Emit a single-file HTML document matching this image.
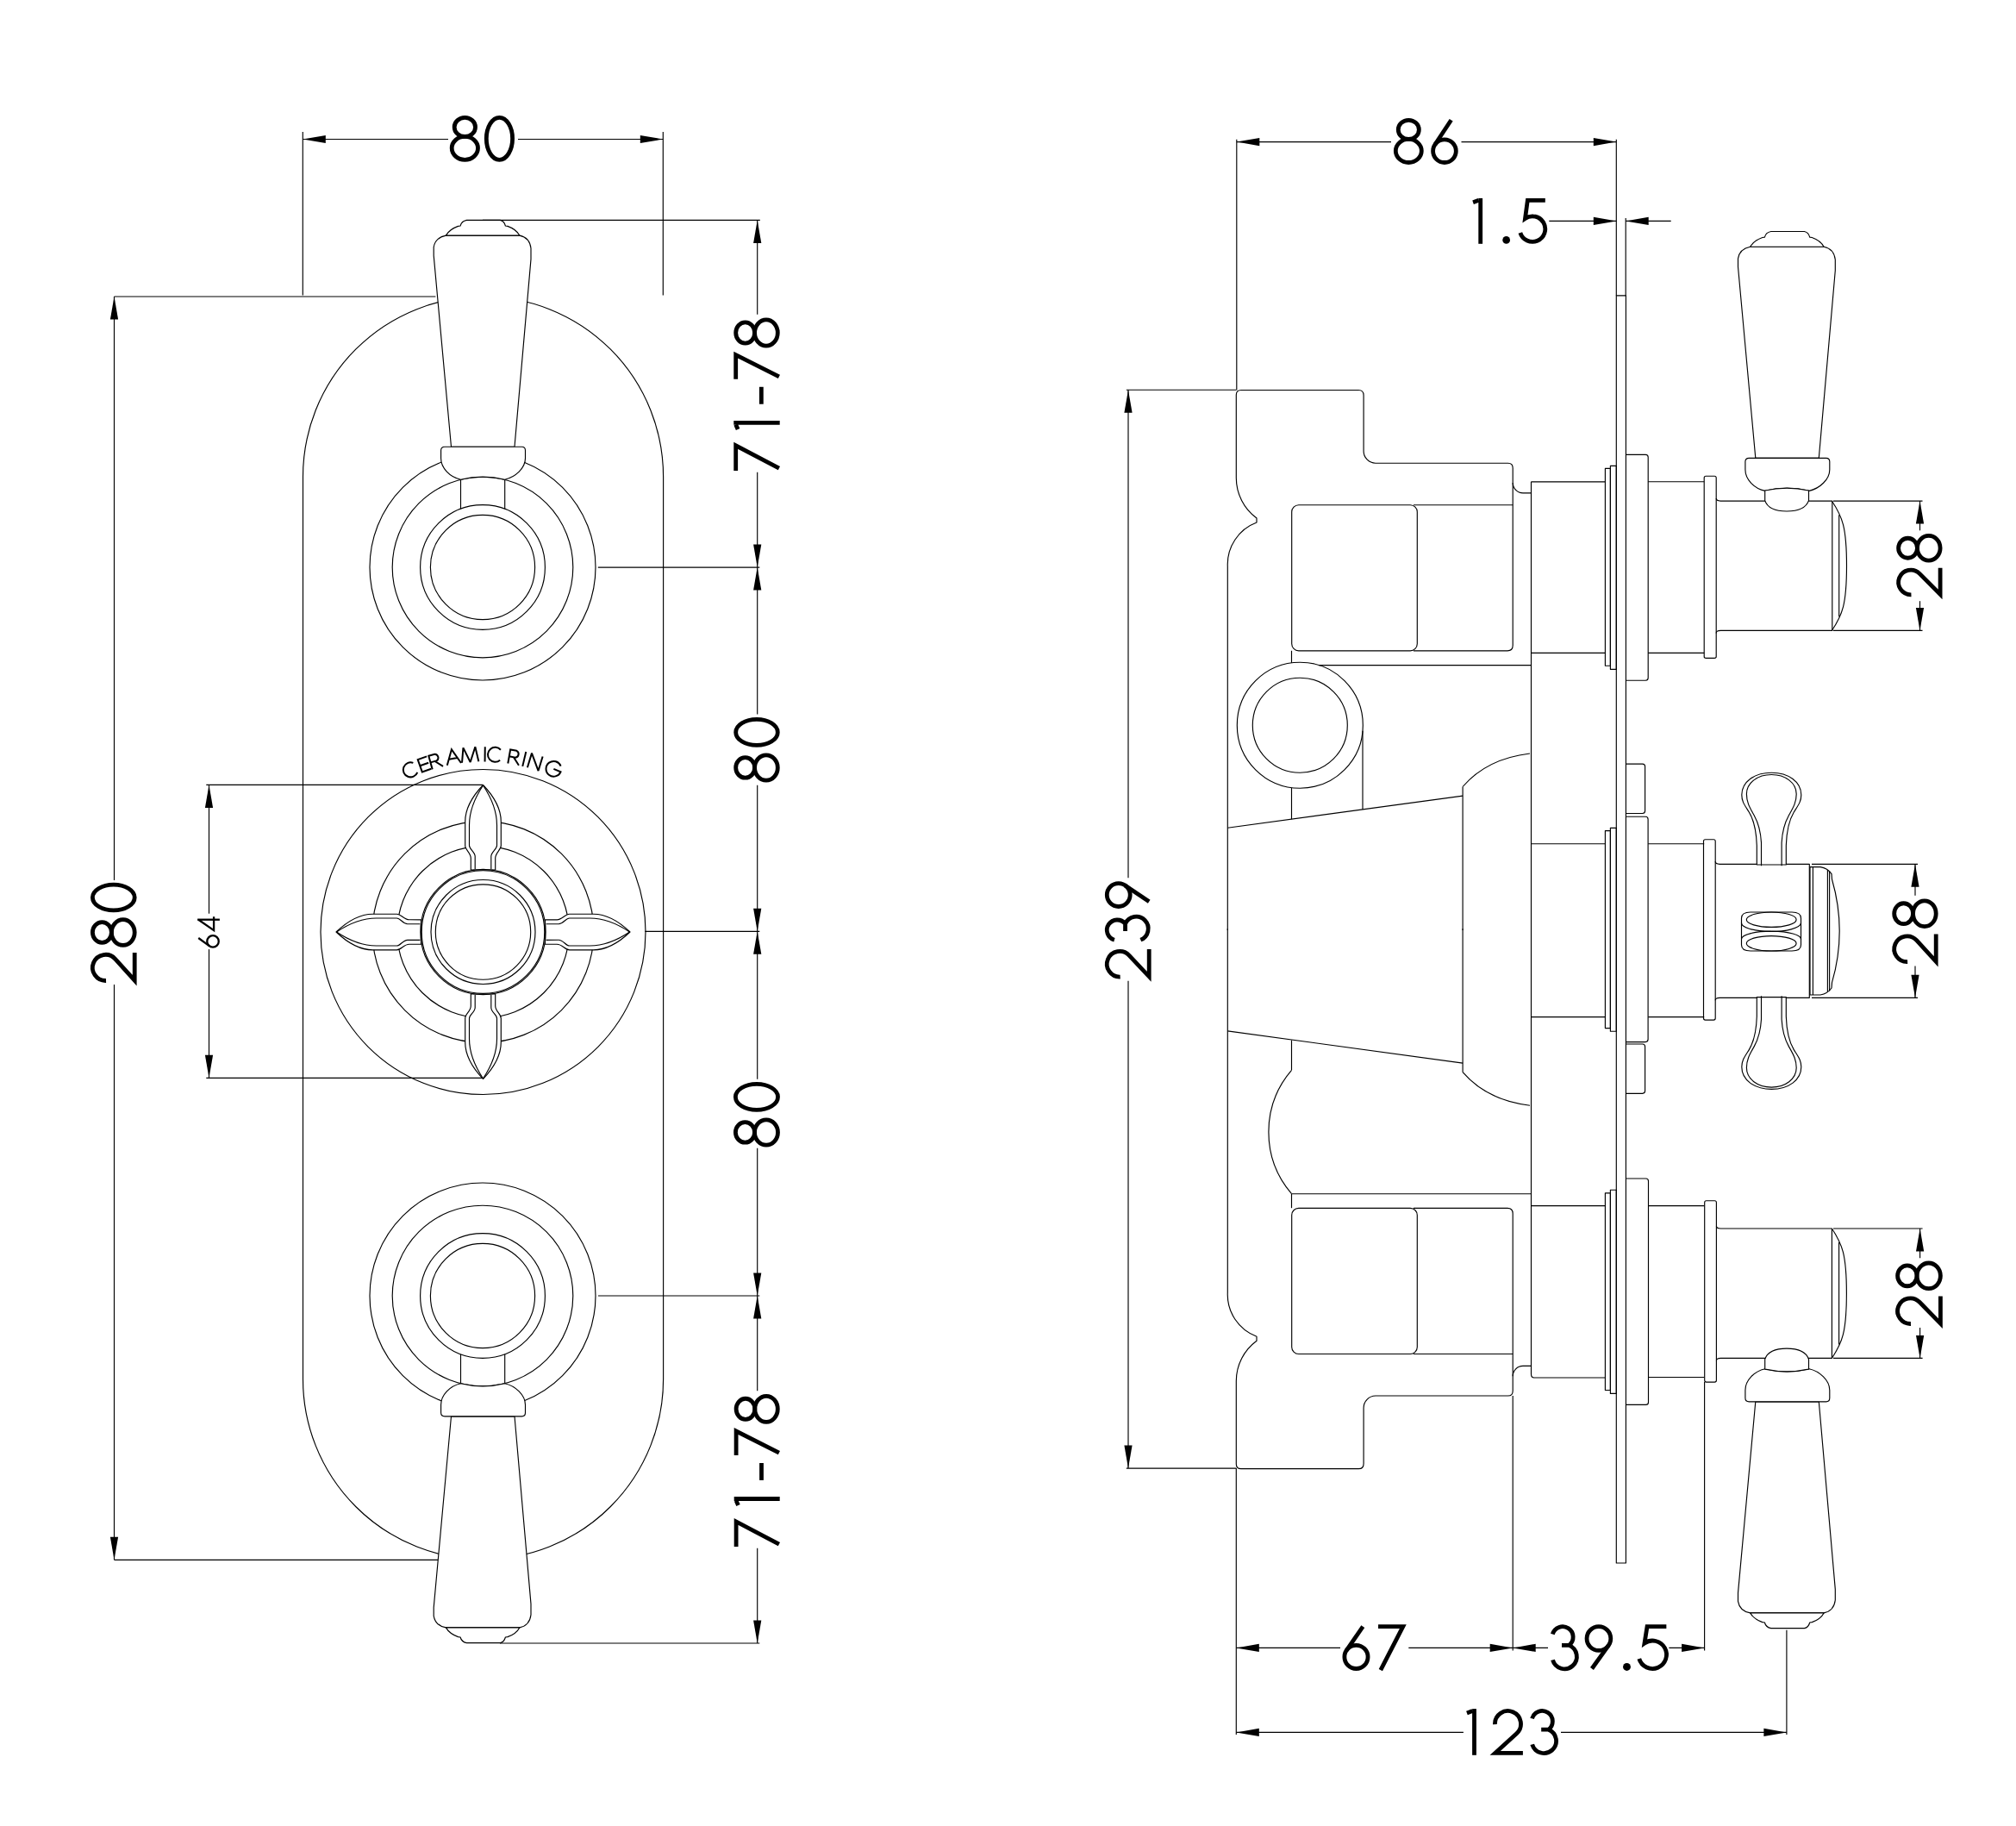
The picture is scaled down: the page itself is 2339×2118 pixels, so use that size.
<!DOCTYPE html>
<html><head><meta charset="utf-8"><style>
html,body{margin:0;padding:0;background:#fff;}
svg{display:block;}
.t2{font-family:"Liberation Sans",sans-serif;font-size:25px;fill:#000;stroke:none;}
</style></head><body>
<svg width="2339" height="2118" viewBox="0 0 2339 2118">
<rect x="0" y="0" width="2339" height="2118" fill="#fff"/>
<g fill="none" stroke="#000" stroke-width="1.15" stroke-linejoin="round">
<line x1="351.3" y1="153.0" x2="351.3" y2="342.6"/>
<line x1="769.3" y1="153.0" x2="769.3" y2="342.6"/>
<line x1="351.3" y1="161.5" x2="520.0" y2="161.5"/>
<line x1="601.0" y1="161.5" x2="769.3" y2="161.5"/>
<polygon points="351.3,161.5 377.8,156.9 377.8,166.1" fill="#000" stroke="none"/>
<polygon points="769.3,161.5 742.8,156.9 742.8,166.1" fill="#000" stroke="none"/>
<g transform="translate(521.80,134.00)" stroke-width="4.8" stroke-linecap="butt" stroke-linejoin="miter" fill="none">
<ellipse cx="17.55" cy="13.42" rx="12.17" ry="11.02"/>
<ellipse cx="17.55" cy="37.87" rx="15.15" ry="13.43"/>
<ellipse cx="57.65" cy="26.85" rx="15.15" ry="24.45"/>
</g>
<line x1="132.5" y1="344.0" x2="505.4" y2="344.0"/>
<line x1="132.5" y1="1809.3" x2="508.7" y2="1809.3"/>
<line x1="132.5" y1="344.0" x2="132.5" y2="1021.0"/>
<line x1="132.5" y1="1142.0" x2="132.5" y2="1809.3"/>
<polygon points="132.5,344.0 127.9,370.5 137.1,370.5" fill="#000" stroke="none"/>
<polygon points="132.5,1809.3 127.9,1782.8 137.1,1782.8" fill="#000" stroke="none"/>
<g transform="translate(105.00,1139.90) rotate(-90)" stroke-width="4.8" stroke-linecap="butt" stroke-linejoin="miter" fill="none">
<path d="M 2.41 18.03 A 15.10 15.10 0 1 1 27.62 28.71 L 2.70 51.20 L 35.00 51.20"/>
<ellipse cx="58.35" cy="13.39" rx="11.92" ry="10.99"/>
<ellipse cx="58.35" cy="37.79" rx="14.85" ry="13.41"/>
<ellipse cx="98.85" cy="26.80" rx="14.85" ry="24.40"/>
</g>
<rect x="351.5" y="344.0" width="418.1" height="1464.7" rx="209"/>
<line x1="560.0" y1="255.4" x2="881.8" y2="255.4"/>
<line x1="693.8" y1="658.1" x2="881.3" y2="658.1"/>
<line x1="748.3" y1="1080.3" x2="881.3" y2="1080.3"/>
<line x1="694.0" y1="1503.0" x2="881.3" y2="1503.0"/>
<line x1="580.0" y1="1906.0" x2="881.3" y2="1906.0"/>
<line x1="878.7" y1="255.4" x2="878.7" y2="364.7"/>
<line x1="878.7" y1="547.8" x2="878.7" y2="658.1"/>
<line x1="878.7" y1="658.1" x2="878.7" y2="828.4"/>
<line x1="878.7" y1="910.8" x2="878.7" y2="1080.3"/>
<line x1="878.7" y1="1080.3" x2="878.7" y2="1251.7"/>
<line x1="878.7" y1="1331.8" x2="878.7" y2="1503.0"/>
<line x1="878.7" y1="1503.0" x2="878.7" y2="1613.3"/>
<line x1="878.7" y1="1795.8" x2="878.7" y2="1906.0"/>
<polygon points="878.7,255.4 874.1,281.9 883.3,281.9" fill="#000" stroke="none"/>
<polygon points="878.7,658.1 874.1,631.6 883.3,631.6" fill="#000" stroke="none"/>
<polygon points="878.7,658.1 874.1,684.6 883.3,684.6" fill="#000" stroke="none"/>
<polygon points="878.7,1080.3 874.1,1053.8 883.3,1053.8" fill="#000" stroke="none"/>
<polygon points="878.7,1080.3 874.1,1106.8 883.3,1106.8" fill="#000" stroke="none"/>
<polygon points="878.7,1503.0 874.1,1476.5 883.3,1476.5" fill="#000" stroke="none"/>
<polygon points="878.7,1503.0 874.1,1529.5 883.3,1529.5" fill="#000" stroke="none"/>
<polygon points="878.7,1906.0 874.1,1879.5 883.3,1879.5" fill="#000" stroke="none"/>
<g transform="translate(851.30,546.00) rotate(-90)" stroke-width="4.8" stroke-linecap="butt" stroke-linejoin="miter" fill="none">
<path d="M 0.00 2.40 L 29.17 2.40 L 2.80 52.60"/>
<path d="M 55.63 0.00 L 55.63 53.40"/>
<path d="M 53.53 2.40 L 48.06 4.80"/>
<path d="M 77.27 32.04 L 97.22 32.04"/>
<path d="M 106.24 2.40 L 134.31 2.40 L 109.04 52.60"/>
<ellipse cx="160.01" cy="13.35" rx="12.12" ry="10.95"/>
<ellipse cx="160.01" cy="37.65" rx="15.09" ry="13.35"/>
</g>
<g transform="translate(851.30,907.50) rotate(-90)" stroke-width="4.8" stroke-linecap="butt" stroke-linejoin="miter" fill="none">
<ellipse cx="17.05" cy="13.35" rx="11.75" ry="10.95"/>
<ellipse cx="17.05" cy="37.65" rx="14.65" ry="13.35"/>
<ellipse cx="58.10" cy="26.70" rx="15.00" ry="24.30"/>
</g>
<g transform="translate(851.00,1330.50) rotate(-90)" stroke-width="4.8" stroke-linecap="butt" stroke-linejoin="miter" fill="none">
<ellipse cx="17.05" cy="13.46" rx="11.75" ry="11.06"/>
<ellipse cx="17.05" cy="38.01" rx="14.65" ry="13.49"/>
<ellipse cx="58.10" cy="26.95" rx="15.00" ry="24.55"/>
</g>
<g transform="translate(851.70,1794.00) rotate(-90)" stroke-width="4.8" stroke-linecap="butt" stroke-linejoin="miter" fill="none">
<path d="M 0.00 2.40 L 29.10 2.40 L 2.80 52.20"/>
<path d="M 55.50 0.00 L 55.50 53.00"/>
<path d="M 53.40 2.40 L 47.96 4.80"/>
<path d="M 77.10 31.80 L 97.00 31.80"/>
<path d="M 106.00 2.40 L 134.00 2.40 L 108.80 52.20"/>
<ellipse cx="159.65" cy="13.26" rx="12.08" ry="10.86"/>
<ellipse cx="159.65" cy="37.36" rx="15.05" ry="13.24"/>
</g>
<line x1="239.3" y1="910.4" x2="560.0" y2="910.4"/>
<line x1="239.3" y1="1250.3" x2="560.0" y2="1250.3"/>
<line x1="242.5" y1="910.4" x2="242.5" y2="1059.7"/>
<line x1="242.5" y1="1101.1" x2="242.5" y2="1250.3"/>
<polygon points="242.5,910.4 237.9,936.9 247.1,936.9" fill="#000" stroke="none"/>
<polygon points="242.5,1250.3 237.9,1223.8 247.1,1223.8" fill="#000" stroke="none"/>
<g transform="translate(229.10,1099.80) rotate(-90)" stroke-width="2.3" stroke-linecap="butt" stroke-linejoin="miter" fill="none">
<circle cx="7.90" cy="17.90" r="6.75"/>
<path d="M 11.77 1.15 L 2.45 13.92"/>
<path d="M 33.09 0.00 L 33.09 25.80"/>
<path d="M 33.09 1.15 L 20.65 18.99 L 36.60 18.99"/>
</g>
<circle cx="560.0" cy="658.0" r="131.0"/>
<circle cx="560.0" cy="658.0" r="104.8"/>
<circle cx="560.0" cy="658.0" r="72.4"/>
<circle cx="560.0" cy="658.0" r="60.6"/>
<circle cx="560.0" cy="1503.0" r="131.0"/>
<circle cx="560.0" cy="1503.0" r="104.8"/>
<circle cx="560.0" cy="1503.0" r="72.4"/>
<circle cx="560.0" cy="1503.0" r="60.6"/>
<line x1="534.5" y1="556.3" x2="534.5" y2="590.2"/>
<line x1="585.7" y1="556.3" x2="585.7" y2="590.2"/>
<line x1="534.5" y1="1604.7" x2="534.5" y2="1570.8"/>
<line x1="585.7" y1="1604.7" x2="585.7" y2="1570.8"/>
<defs><g id="lev">
<path d="M 517.4 273.1 L 602.8 273.1 Q 614.5 275.5 616 288 L 616 300.6 L 597 518.2 L 523.5 518.2 L 503.2 296.4 L 503.2 286.7 Q 505 275.5 517.4 273.1 Z" fill="#fff"/>
<path d="M 517.4 273.1 Q 521.5 266 531.5 262.4 L 534.1 262 Q 535.5 256.5 541.4 255.4 L 580.3 255.4 Q 585 256.5 586.4 262 L 589 262.4 Q 599 266 602.8 273.1 Z" fill="#fff"/>
<path d="M 516 518.2 L 605.5 518.2 Q 609.5 518.2 609.5 522.5 L 609.5 531.6 C 609.5 543 598 553.5 585.7 556.3 A 104.8 104.8 0 0 0 534.5 556.3 C 522 553.5 511.6 543 511.6 531.6 L 511.6 522.5 Q 511.6 518.2 516 518.2 Z" fill="#fff"/>
</g>
<g id="arm">
<path d="M -14.2 -72 L -14.2 -85.7 C -14.2 -92 -20.8 -95 -20.8 -100.2 L -20.8 -128 C -20.8 -145 -10 -160 0 -170.5 C 10 -160 20.8 -145 20.8 -128 L 20.8 -100.2 C 20.8 -95 14.2 -92 14.2 -85.7 L 14.2 -72 Z" fill="#fff"/>
<path d="M -9.3 -73 L -9.3 -87.7 C -9.3 -93 -16 -96 -16 -100.2 L -16 -124 C -16 -142 -8 -158 0 -170 C 8 -158 16 -142 16 -124 L 16 -100.2 C 16 -96 9.3 -93 9.3 -87.7 L 9.3 -73"/>
</g>
<g id="sarm">
<path d="M -17 1003 L -17 980.7 C -17.5 965 -20 952 -26 942 C -31 934 -34.5 930 -34.5 922 C -34.5 907 -20 896.2 0 896.2 C 20 896.2 34.5 907 34.5 922 C 34.5 930 31 934 26 942 C 20 952 17.5 965 17 980.7 L 17 1003 Z" fill="#fff"/>
<path d="M -11.8 1004.3 L -11.8 977.4 C -12.5 965 -15 955 -20 946 C -25 937 -28.9 931 -28.9 921 C -28.9 908 -16 898.5 0 898.5 C 16 898.5 28.9 908 28.9 921 C 28.9 931 25 937 20 946 C 15 955 12.5 965 11.8 977.4 L 11.8 1004.3"/>
</g>
</defs>
<use href="#lev"/>
<use href="#lev" transform="translate(0,2161) scale(1,-1)"/>
<circle cx="560.5" cy="1081.0" r="188.5"/>
<circle cx="560.5" cy="1081.0" r="128.4"/>
<circle cx="560.5" cy="1081.0" r="99.7"/>
<use href="#arm" transform="translate(560.5,1081.0) rotate(0)"/>
<use href="#arm" transform="translate(560.5,1081.0) rotate(90)"/>
<use href="#arm" transform="translate(560.5,1081.0) rotate(180)"/>
<use href="#arm" transform="translate(560.5,1081.0) rotate(270)"/>
<circle cx="560.5" cy="1081.0" r="72.6" fill="none"/>
<circle cx="560.5" cy="1081.0" r="71.3" fill="none"/>
<circle cx="560.5" cy="1081.0" r="60.5" fill="none"/>
<circle cx="560.5" cy="1081.0" r="55.2" fill="none"/>
<g transform="translate(479.85,900.72) rotate(-24.1) translate(-9.52,0)" stroke-width="2" stroke-linejoin="miter" stroke-miterlimit="2.5" stroke-linecap="butt"><path d="M 15.54 -14.67 A 8.52 8.52 0 1 0 15.54 -2.63"/></g>
<g transform="translate(494.90,894.71) rotate(-19.4) translate(-6.05,0)" stroke-width="2" stroke-linejoin="miter" stroke-miterlimit="2.5" stroke-linecap="butt"><path d="M 12.11 -16.30 L 1.00 -16.30 L 1.00 -1.00 L 12.11 -1.00 M 1.00 -8.65 L 11.50 -8.65"/></g>
<g transform="translate(507.39,890.78) rotate(-15.6) translate(-6.92,0)" stroke-width="2" stroke-linejoin="miter" stroke-miterlimit="2.5" stroke-linecap="butt"><path d="M 1.00 0 L 1.00 -16.30 L 8.34 -16.30 A 4.20 4.20 0 0 1 8.34 -8.30 L 1.00 -8.30 M 6.23 -8.30 L 13.84 0"/></g>
<g transform="translate(526.88,886.38) rotate(-9.8) translate(-8.22,0)" stroke-width="2" stroke-linejoin="miter" stroke-miterlimit="2.5" stroke-linecap="butt"><path d="M 0 0 L 8.22 -17.30 L 16.43 0 M 3.29 -6.57 L 13.15 -6.57"/></g>
<g transform="translate(545.69,884.06) rotate(-4.3) translate(-9.69,0)" stroke-width="2" stroke-linejoin="miter" stroke-miterlimit="2.5" stroke-linecap="butt"><path d="M 0 0 L 2.71 -17.30 L 9.69 0 L 16.66 -17.30 L 19.38 0"/></g>
<g transform="translate(562.57,883.51) rotate(0.6) translate(-1.00,0)" stroke-width="2" stroke-linejoin="miter" stroke-miterlimit="2.5" stroke-linecap="butt"><path d="M 1.00 0 L 1.00 -17.30"/></g>
<g transform="translate(573.93,883.96) rotate(3.9) translate(-9.52,0)" stroke-width="2" stroke-linejoin="miter" stroke-miterlimit="2.5" stroke-linecap="butt"><path d="M 15.54 -14.67 A 8.52 8.52 0 1 0 15.54 -2.63"/></g>
<g transform="translate(595.13,886.56) rotate(10.1) translate(-6.92,0)" stroke-width="2" stroke-linejoin="miter" stroke-miterlimit="2.5" stroke-linecap="butt"><path d="M 1.00 0 L 1.00 -16.30 L 8.34 -16.30 A 4.20 4.20 0 0 1 8.34 -8.30 L 1.00 -8.30 M 6.23 -8.30 L 13.84 0"/></g>
<g transform="translate(606.27,888.88) rotate(13.4) translate(-1.00,0)" stroke-width="2" stroke-linejoin="miter" stroke-miterlimit="2.5" stroke-linecap="butt"><path d="M 1.00 0 L 1.00 -17.30"/></g>
<g transform="translate(618.24,892.13) rotate(17.0) translate(-7.61,0)" stroke-width="2" stroke-linejoin="miter" stroke-miterlimit="2.5" stroke-linecap="butt"><path d="M 1.00 0 L 1.00 -17.30 L 14.22 0 L 14.22 -17.30"/></g>
<g transform="translate(638.94,899.74) rotate(23.4) translate(-9.86,0)" stroke-width="2" stroke-linejoin="miter" stroke-miterlimit="2.5" stroke-linecap="butt"><path d="M 16.13 -14.92 A 8.86 8.86 0 1 0 18.72 -8.65 L 9.86 -8.65"/></g>
<line x1="1434.8" y1="161.7" x2="1434.8" y2="452.5"/>
<line x1="1875.3" y1="161.7" x2="1875.3" y2="342.9"/>
<line x1="1434.8" y1="164.6" x2="1614.0" y2="164.6"/>
<line x1="1695.5" y1="164.6" x2="1875.3" y2="164.6"/>
<polygon points="1434.8,164.6 1461.3,160.0 1461.3,169.2" fill="#000" stroke="none"/>
<polygon points="1875.3,164.6 1848.8,160.0 1848.8,169.2" fill="#000" stroke="none"/>
<g transform="translate(1616.90,136.90)" stroke-width="4.8" stroke-linecap="butt" stroke-linejoin="miter" fill="none">
<ellipse cx="17.40" cy="13.48" rx="12.04" ry="11.09"/>
<ellipse cx="17.40" cy="38.08" rx="15.00" ry="13.52"/>
<circle cx="59.05" cy="38.25" r="13.35"/>
<path d="M 66.77 2.40 L 47.92 30.88"/>
</g>
<line x1="1797.3" y1="256.4" x2="1875.3" y2="256.4"/>
<line x1="1886.2" y1="256.4" x2="1938.7" y2="256.4"/>
<line x1="1886.2" y1="253.1" x2="1886.2" y2="342.9"/>
<polygon points="1875.3,256.4 1848.8,251.8 1848.8,261.0" fill="#000" stroke="none"/>
<polygon points="1886.2,256.4 1912.7,251.8 1912.7,261.0" fill="#000" stroke="none"/>
<g transform="translate(1706.90,229.90)" stroke-width="4.8" stroke-linecap="butt" stroke-linejoin="miter" fill="none">
<path d="M 10.80 0.00 L 10.80 52.90"/>
<path d="M 8.70 2.40 L 2.16 4.80"/>
<circle cx="40.75" cy="48.55" r="4.35" fill="#000" stroke="none"/>
<path d="M 85.91 2.40 L 65.45 2.40 L 62.60 23.60 A 14.78 14.78 0 1 1 56.95 40.04"/>
</g>
<line x1="1306.8" y1="452.2" x2="1434.3" y2="452.2"/>
<line x1="1306.8" y1="1703.1" x2="1434.3" y2="1703.1"/>
<line x1="1309.0" y1="452.2" x2="1309.0" y2="1018.3"/>
<line x1="1309.0" y1="1137.7" x2="1309.0" y2="1703.1"/>
<polygon points="1309.0,452.2 1304.4,478.7 1313.6,478.7" fill="#000" stroke="none"/>
<polygon points="1309.0,1703.1 1304.4,1676.6 1313.6,1676.6" fill="#000" stroke="none"/>
<g transform="translate(1281.90,1135.50) rotate(-90)" stroke-width="4.8" stroke-linecap="butt" stroke-linejoin="miter" fill="none">
<path d="M 2.41 17.77 A 14.85 14.85 0 1 1 27.42 28.07 L 2.70 51.30 L 34.50 51.30"/>
<path d="M 45.22 11.01 A 11.88 11.88 0 1 1 63.95 23.64 L 55.62 23.64 M 63.95 23.64 A 13.92 13.92 0 1 1 45.37 41.45"/>
<circle cx="97.45" cy="15.85" r="13.45"/>
<path d="M 89.68 51.30 L 108.59 23.39"/>
</g>
<g id="bodyhalf">
<path d="M 1424.3 1079 L 1424.3 656.8 A 52 52 0 0 1 1458 606 L 1458 601 A 58 58 0 0 1 1434.3 554.3 L 1434.3 458 Q 1434.3 452.5 1440 452.5 L 1576.2 452.5 Q 1582.1 452.5 1582.1 458.5 L 1582.1 522.8 A 14 14 0 0 0 1596 537.2 L 1749.7 537.2 Q 1755.2 537.2 1755.2 543 L 1755.2 748.5 Q 1755.2 754.8 1749 754.8 L 1640 754.8"/>
<path d="M 1755.2 560 A 11.8 11.8 0 0 0 1767 571.8 L 1776.5 571.8"/>
<rect x="1498.7" y="585.7" width="145.6" height="169.1" rx="8"/>
<line x1="1640.0" y1="585.7" x2="1755.2" y2="585.7"/>
<line x1="1424.3" y1="960.3" x2="1697.1" y2="923.1"/>
<line x1="1697.1" y1="912.5" x2="1697.1" y2="1079.0"/>
<path d="M 1697.1 912.5 Q 1725 880 1775 874"/>
</g>
<use href="#bodyhalf" transform="translate(0,2156.2) scale(1,-1)"/>
<line x1="1498.5" y1="754.8" x2="1498.5" y2="768.9"/>
<circle cx="1508.3" cy="841.2" r="73.0"/>
<circle cx="1508.3" cy="841.2" r="55.0"/>
<line x1="1530.0" y1="771.6" x2="1776.5" y2="771.6"/>
<line x1="1581.0" y1="847.8" x2="1581.0" y2="938.9"/>
<line x1="1498.5" y1="914.0" x2="1498.5" y2="950.2"/>
<line x1="1498.5" y1="1206.6" x2="1498.5" y2="1241.4"/>
<path d="M 1498.5 1241.4 A 109.8 109.8 0 0 0 1498.5 1384.7"/>
<line x1="1498.5" y1="1384.7" x2="1776.5" y2="1384.7"/>
<line x1="1498.5" y1="1384.7" x2="1498.5" y2="1401.2"/>
<line x1="1776.5" y1="558.8" x2="1776.5" y2="1594.0"/>
<path d="M 1776.5 1594 Q 1776.5 1598 1780 1598 L 1862.4 1598"/>
<line x1="1776.5" y1="558.8" x2="1862.4" y2="558.8"/>
<line x1="1776.5" y1="757.4" x2="1862.4" y2="757.4"/>
<line x1="1776.5" y1="978.7" x2="1862.4" y2="978.7"/>
<line x1="1776.5" y1="1179.6" x2="1862.4" y2="1179.6"/>
<line x1="1776.5" y1="1398.6" x2="1862.4" y2="1398.6"/>
<rect x="1862.4" y="543.4" width="6.0" height="228.8"/>
<rect x="1868.4" y="540.3" width="6.9" height="236.0"/>
<rect x="1862.4" y="963.6" width="6.0" height="229.0"/>
<rect x="1868.4" y="960.3" width="6.9" height="235.9"/>
<rect x="1862.4" y="1383.8" width="6.0" height="228.7"/>
<rect x="1868.4" y="1380.2" width="6.9" height="236.2"/>
<rect x="1875.3" y="342.9" width="11.1" height="1470.1"/>
<path d="M 1886.4 527.3 L 1909.2 527.3 Q 1912.2 527.3 1912.2 530.3 L 1912.2 786.2 Q 1912.2 789.2 1909.2 789.2 L 1886.4 789.2"/>
<path d="M 1886.4 886.1 L 1905.6 886.1 Q 1908.6 886.1 1908.6 889.1 L 1908.6 940.5 Q 1908.6 943.5 1905.6 943.5 L 1886.4 943.5"/>
<path d="M 1886.4 947.2 L 1909.1 947.2 Q 1912.1 947.2 1912.1 950.2 L 1912.1 1205.6 Q 1912.1 1208.6 1909.1 1208.6 L 1886.4 1208.6"/>
<path d="M 1886.4 1211 L 1905.6 1211 Q 1908.6 1211 1908.6 1214 L 1908.6 1265.3 Q 1908.6 1268.3 1905.6 1268.3 L 1886.4 1268.3"/>
<path d="M 1886.4 1367 L 1909.5 1367 Q 1912.5 1367 1912.5 1370 L 1912.5 1626.4 Q 1912.5 1629.4 1909.5 1629.4 L 1886.4 1629.4"/>
<line x1="1912.2" y1="558.7" x2="1977.2" y2="558.7"/>
<line x1="1912.2" y1="757.4" x2="1977.2" y2="757.4"/>
<line x1="1912.2" y1="978.7" x2="1977.2" y2="978.7"/>
<line x1="1912.2" y1="1179.6" x2="1977.2" y2="1179.6"/>
<line x1="1912.2" y1="1398.6" x2="1977.2" y2="1398.6"/>
<line x1="1912.2" y1="1597.5" x2="1977.2" y2="1597.5"/>
<rect x="1977.2" y="552.2" width="14.0" height="211.2" rx="2"/>
<rect x="1976.5" y="973.7" width="13.7" height="209.4" rx="2"/>
<rect x="1977.7" y="1392.7" width="13.7" height="210.4" rx="2"/>
<path d="M 1991.2 578.1 Q 1991.2 581.1 1996.2 581.1 L 2125.8 581.1 L 2125.8 731.4 L 1996.2 731.4 Q 1991.2 731.4 1991.2 734.4"/>
<path d="M 1990.2 999.3 Q 1990.2 1002.3 1995.2 1002.3 L 2099.3 1002.3 L 2099.3 1157.3 L 1995.2 1157.3 Q 1990.2 1157.3 1990.2 1160.3"/>
<path d="M 1991.4 1422 Q 1991.4 1425 1996.4 1425 L 2125.4 1425 L 2125.4 1575.4 L 1996.4 1575.4 Q 1991.4 1575.4 1991.4 1578.4"/>
<path d="M 2125.5 581.2 C 2137.5 599.2 2142.5 611.2 2142.5 656.2 C 2142.5 701.2 2137.5 713.2 2125.5 731.2"/>
<line x1="2133.7" y1="597.2" x2="2133.7" y2="715.2"/>
<path d="M 2125.4 1425 C 2137.4 1443 2142.4 1455.2 2142.4 1500.2 C 2142.4 1545.2 2137.4 1557.4 2125.4 1575.4"/>
<line x1="2133.6" y1="1441.0" x2="2133.6" y2="1559.4"/>
<path d="M 2100 1005.6 L 2112 1005.6 Q 2120.4 1007 2125 1013.6 L 2125.5 1020 Q 2134.2 1050 2134.2 1079.8 Q 2134.2 1110 2125.5 1139.6 L 2125 1146 Q 2120.4 1152.6 2112 1154 L 2100 1154 Z"/>
<line x1="2103.4" y1="1005.6" x2="2103.4" y2="1154.0"/>
<line x1="2120.4" y1="1009.0" x2="2120.4" y2="1150.6"/>
<line x1="2122.6" y1="1010.0" x2="2122.6" y2="1149.6"/>
<use href="#lev" transform="translate(1513.3,13.1)"/>
<use href="#lev" transform="translate(1513.3,2144) scale(1,-1)"/>
<path d="M 2047.7 569 Q 2073 563.5 2098.5 569 L 2098.5 580.6 Q 2094 593 2073 593 Q 2052 593 2047.7 580.6 Z" fill="#fff"/>
<path d="M 2047.7 569 Q 2073 563.5 2098.5 569 L 2098.5 580.6 Q 2094 593 2073 593 Q 2052 593 2047.7 580.6 Z" fill="#fff" transform="translate(0,2157.1) scale(1,-1)"/>
<use href="#sarm" transform="translate(2055.3,0)"/>
<use href="#sarm" transform="translate(2055.3,2159.6) scale(1,-1)"/>
<path d="M 2031 1058 L 2079 1058 Q 2089.5 1058 2089.5 1065 L 2089.5 1096 Q 2089.5 1103 2079 1103 L 2031 1103 Q 2020.5 1103 2020.5 1096 L 2020.5 1065 Q 2020.5 1058 2031 1058 Z" fill="#fff"/>
<ellipse cx="2055.2" cy="1066.7" rx="28.9" ry="8.7"/>
<ellipse cx="2055.2" cy="1094.3" rx="28.9" ry="8.7"/>
<path d="M 2020.5 1070 A 34.5 10 0 0 0 2089.5 1070.9"/>
<path d="M 2020.5 1089 A 34.5 9.2 0 0 1 2089.5 1089.6"/>
<line x1="2127.0" y1="581.1" x2="2230.5" y2="581.1"/>
<line x1="2127.0" y1="731.4" x2="2230.5" y2="731.4"/>
<line x1="2227.5" y1="581.1" x2="2227.5" y2="615.3"/>
<line x1="2227.5" y1="697.2" x2="2227.5" y2="731.4"/>
<polygon points="2227.5,581.1 2222.9,607.6 2232.1,607.6" fill="#000" stroke="none"/>
<polygon points="2227.5,731.4 2222.9,704.9 2232.1,704.9" fill="#000" stroke="none"/>
<g transform="translate(2200.20,692.20) rotate(-90)" stroke-width="4.8" stroke-linecap="butt" stroke-linejoin="miter" fill="none">
<path d="M 2.41 17.25 A 14.35 14.35 0 1 1 26.86 26.94 L 2.70 50.90 L 33.50 50.90"/>
<ellipse cx="56.45" cy="13.33" rx="11.50" ry="10.93"/>
<ellipse cx="56.45" cy="37.58" rx="14.35" ry="13.32"/>
</g>
<line x1="2102.0" y1="1002.3" x2="2225.0" y2="1002.3"/>
<line x1="2102.0" y1="1157.3" x2="2225.0" y2="1157.3"/>
<line x1="2222.0" y1="1002.3" x2="2222.0" y2="1038.7"/>
<line x1="2222.0" y1="1120.6" x2="2222.0" y2="1157.3"/>
<polygon points="2222.0,1002.3 2217.4,1028.8 2226.6,1028.8" fill="#000" stroke="none"/>
<polygon points="2222.0,1157.3 2217.4,1130.8 2226.6,1130.8" fill="#000" stroke="none"/>
<g transform="translate(2195.30,1118.10) rotate(-90)" stroke-width="4.8" stroke-linecap="butt" stroke-linejoin="miter" fill="none">
<path d="M 2.41 17.84 A 14.92 14.92 0 1 1 27.39 28.34 L 2.70 50.90 L 34.64 50.90"/>
<ellipse cx="58.38" cy="13.33" rx="11.98" ry="10.93"/>
<ellipse cx="58.38" cy="37.58" rx="14.92" ry="13.32"/>
</g>
<line x1="2127.0" y1="1425.0" x2="2230.6" y2="1425.0"/>
<line x1="2127.0" y1="1575.4" x2="2230.6" y2="1575.4"/>
<line x1="2227.6" y1="1425.0" x2="2227.6" y2="1459.3"/>
<line x1="2227.6" y1="1540.0" x2="2227.6" y2="1575.4"/>
<polygon points="2227.6,1425.0 2223.0,1451.5 2232.2,1451.5" fill="#000" stroke="none"/>
<polygon points="2227.6,1575.4 2223.0,1548.9 2232.2,1548.9" fill="#000" stroke="none"/>
<g transform="translate(2199.20,1537.90) rotate(-90)" stroke-width="4.8" stroke-linecap="butt" stroke-linejoin="miter" fill="none">
<path d="M 2.41 17.75 A 14.83 14.83 0 1 1 27.60 27.83 L 2.70 52.20 L 34.46 52.20"/>
<ellipse cx="58.07" cy="13.62" rx="11.90" ry="11.22"/>
<ellipse cx="58.07" cy="38.52" rx="14.83" ry="13.68"/>
</g>
<line x1="1434.3" y1="1703.1" x2="1434.3" y2="2012.0"/>
<line x1="1755.2" y1="1619.0" x2="1755.2" y2="1914.5"/>
<line x1="1977.6" y1="1603.0" x2="1977.6" y2="1914.5"/>
<line x1="1434.3" y1="1911.4" x2="1555.0" y2="1911.4"/>
<line x1="1634.3" y1="1911.4" x2="1755.2" y2="1911.4"/>
<line x1="1755.2" y1="1911.4" x2="1796.0" y2="1911.4"/>
<line x1="1936.4" y1="1911.4" x2="1977.6" y2="1911.4"/>
<polygon points="1434.3,1911.4 1460.8,1906.8 1460.8,1916.0" fill="#000" stroke="none"/>
<polygon points="1755.2,1911.4 1728.7,1906.8 1728.7,1916.0" fill="#000" stroke="none"/>
<polygon points="1755.2,1911.4 1781.7,1906.8 1781.7,1916.0" fill="#000" stroke="none"/>
<polygon points="1977.6,1911.4 1951.1,1906.8 1951.1,1916.0" fill="#000" stroke="none"/>
<g transform="translate(1557.50,1884.30)" stroke-width="4.8" stroke-linecap="butt" stroke-linejoin="miter" fill="none">
<circle cx="15.98" cy="37.62" r="13.58"/>
<path d="M 23.81 2.40 L 4.81 29.90"/>
<path d="M 41.54 2.40 L 70.30 2.40 L 44.34 52.80"/>
</g>
<g transform="translate(1797.10,1884.30)" stroke-width="4.8" stroke-linecap="butt" stroke-linejoin="miter" fill="none">
<path d="M 4.25 11.19 A 12.13 12.13 0 1 1 23.39 24.09 L 14.88 24.09 M 23.39 24.09 A 14.21 14.21 0 1 1 4.40 41.15"/>
<circle cx="57.82" cy="16.28" r="13.88"/>
<path d="M 49.84 51.20 L 69.10 24.37"/>
<circle cx="90.38" cy="49.16" r="4.44" fill="#000" stroke="none"/>
<path d="M 136.25 2.40 L 113.94 2.40 L 110.88 21.70 A 16.22 16.22 0 1 1 104.67 39.73"/>
</g>
<line x1="2072.9" y1="1890.7" x2="2072.9" y2="2012.0"/>
<line x1="1434.3" y1="2009.4" x2="1697.9" y2="2009.4"/>
<line x1="1811.0" y1="2009.4" x2="2072.9" y2="2009.4"/>
<polygon points="1434.3,2009.4 1460.8,2004.8 1460.8,2014.0" fill="#000" stroke="none"/>
<polygon points="2072.9,2009.4 2046.4,2004.8 2046.4,2014.0" fill="#000" stroke="none"/>
<g transform="translate(1699.80,1982.10)" stroke-width="4.8" stroke-linecap="butt" stroke-linejoin="miter" fill="none">
<path d="M 10.70 0.00 L 10.70 53.70"/>
<path d="M 8.60 2.40 L 2.16 4.80"/>
<path d="M 34.61 17.98 A 15.05 15.05 0 1 1 59.80 28.56 L 34.90 51.30 L 67.10 51.30"/>
<path d="M 77.75 11.19 A 12.13 12.13 0 1 1 96.89 24.09 L 88.38 24.09 M 96.89 24.09 A 14.21 14.21 0 1 1 77.90 41.25"/>
</g>
</g>
</svg>
</body></html>
